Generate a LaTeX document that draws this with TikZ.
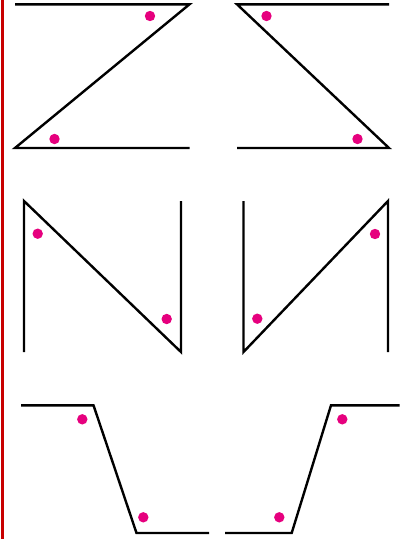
\documentclass[tikz,border=0pt]{standalone}
\definecolor{dotpink}{RGB}{230,0,126}
\definecolor{barred}{RGB}{200,0,0}
\begin{document}
\begin{tikzpicture}[x=1pt,y=-1pt,
  edge/.style={draw=black,line width=2.4pt,line join=miter,line cap=butt},
  angdot/.style={fill=dotpink},
]
\useasboundingbox (0,0) rectangle (409,539);
\fill[barred] (1,0) rectangle (4.4,539);
% panel 1 (Z)
\coordinate (a1) at (15,4.3); \coordinate (a2) at (189.5,4.3);
\coordinate (a3) at (15,148); \coordinate (a4) at (189.5,148);
\draw[edge] (a1) -- (a2) -- (a3) -- (a4);
\fill[angdot] (150,16) circle (5.2);
\fill[angdot] (54.5,139) circle (5.2);
% panel 2 (reverse Z)
\coordinate (b1) at (389,4.3); \coordinate (b2) at (237,4.3);
\coordinate (b3) at (389,148); \coordinate (b4) at (237,148);
\draw[edge] (b1) -- (b2) -- (b3) -- (b4);
\fill[angdot] (266.5,16) circle (5.2);
\fill[angdot] (357.5,139) circle (5.2);
% panel 3 (N)
\coordinate (c1) at (24,352); \coordinate (c2) at (24,201);
\coordinate (c3) at (181,352); \coordinate (c4) at (181,201);
\draw[edge] (c1) -- (c2) -- (c3) -- (c4);
\fill[angdot] (37.7,233.7) circle (5.2);
\fill[angdot] (166.7,319) circle (5.2);
% panel 4 (reverse N)
\coordinate (d1) at (243.5,201); \coordinate (d2) at (243.5,352);
\coordinate (d3) at (388,201); \coordinate (d4) at (388,352);
\draw[edge] (d1) -- (d2) -- (d3) -- (d4);
\fill[angdot] (375,234) circle (5.2);
\fill[angdot] (257.3,318.7) circle (5.2);
% panel 5 (step down)
\coordinate (e1) at (21,405.3); \coordinate (e2) at (93.5,405.3);
\coordinate (e3) at (136.5,533); \coordinate (e4) at (209,533);
\draw[edge] (e1) -- (e2) -- (e3) -- (e4);
\fill[angdot] (82.3,419.3) circle (5.2);
\fill[angdot] (143.3,517.3) circle (5.2);
% panel 6 (step up)
\coordinate (f1) at (225,533); \coordinate (f2) at (291.7,533);
\coordinate (f3) at (331,405.3); \coordinate (f4) at (399.5,405.3);
\draw[edge] (f1) -- (f2) -- (f3) -- (f4);
\fill[angdot] (342.3,419.3) circle (5.2);
\fill[angdot] (279.3,517.3) circle (5.2);
\end{tikzpicture}
\end{document}
